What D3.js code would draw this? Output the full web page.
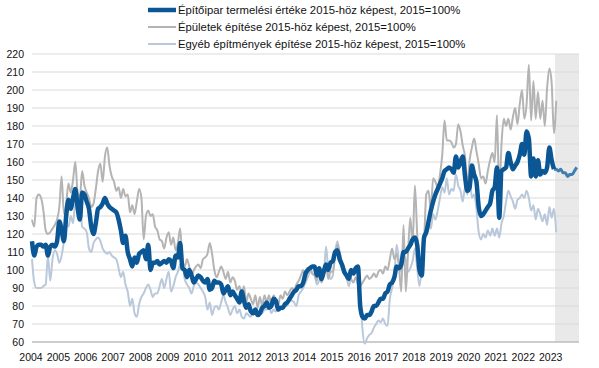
<!DOCTYPE html>
<html>
<head>
<meta charset="utf-8">
<script src="https://cdn.jsdelivr.net/npm/d3@7"></script>
<style>
  body { margin: 0; background: #fff; }
  svg text { font-family: "Liberation Sans", Arial, sans-serif; fill: #111; }
</style>
</head>
<body>
<div id="chart"></div>
<script>
// monthly, 2004 Jan ->
const years = [2004, 2005, 2006, 2007, 2008, 2009, 2010, 2011, 2012, 2013,
  2014, 2015, 2016, 2017, 2018, 2019, 2020, 2021, 2022, 2023];
const yTicks = [60, 70, 80, 90, 100, 110, 120, 130, 140, 150, 160, 170, 180, 190, 200, 210, 220];
const forecastStart = 230;

const seriesNames = [
  'Építőipar termelési értéke 2015-höz képest, 2015=100%',
  'Épületek építése 2015-höz képest, 2015=100%',
  'Egyéb építmények építése 2015-höz képest, 2015=100%'
];

const total = [
  116,108,113,114,114,113,114,108,113,114,113,116,
  127,122,116,130,139,134,140,145,135,128,143,142,
  138,134,124,120,126,134,135,137,140,137,135,134,
  133,132,128,122,115,119,110,106,102,107,104,109,
  110,111,106,114,100,104,104,105,103,104,105,104,
  106,105,101,108,107,115,101,100,96,100,97,93,
  95,97,96,94,93,95,89,90,94,93,93,92,
  87,89,91,86,88,86,84,82,88,83,79,81,
  77,76,78,75,76,79,80,82,79,80,84,83,
  78,79,79,81,82,84,86,88,89,91,91,93,
  98,100,101,102,102,97,101,95,99,103,100,104,
  105,110,111,106,103,99,97,95,100,98,101,102,
  80,74,73,75,75,77,80,80,82,84,84,87,
  88,92,93,96,102,101,103,110,110,112,114,117,
  118,114,100,97,118,121,127,133,138,142,145,148,
  151,155,156,157,156,154,163,157,160,163,152,144,
  146,158,153,149,135,130,131,133,135,137,144,146,
  157,129,155,156,157,165,160,156,158,160,164,170,
  164,177,173,152,162,152,161,153,155,154,157,168,
  161,156,156,155,156,154,154,152,153,153,155,157
];

const buildings = [
  128,124,140,142,140,133,122,120,121,123,125,128,
  135,152,131,137,148,143,150,160,143,140,155,147,
  143,140,135,137,145,155,159,149,163,168,158,152,
  149,144,146,140,145,141,142,132,136,131,138,145,
  140,117,130,133,130,131,124,122,117,116,112,118,
  121,114,118,111,115,123,106,102,106,102,97,100,
  102,103,101,106,107,109,115,109,100,96,99,102,
  99,95,99,93,96,94,89,91,87,91,82,87,
  84,81,86,79,85,80,86,82,86,80,86,83,
  80,86,84,88,86,88,90,89,92,94,97,100,
  94,100,102,98,97,94,100,93,97,102,95,99,
  99,108,114,110,104,101,95,97,95,93,96,92,
  91,93,95,97,95,96,98,96,99,100,98,102,
  100,106,112,106,109,102,88,125,88,110,129,114,
  147,120,101,108,116,142,144,133,151,149,146,153,
  164,183,172,172,171,168,170,181,177,169,163,147,
  161,168,173,166,159,151,152,148,155,161,165,160,
  186,143,170,184,180,184,178,185,190,181,192,200,
  184,192,214,183,205,184,199,184,194,180,201,212,
  204,176,194
];

const other = [
  106,93,90,90,90,91,92,108,94,106,111,109,
  104,108,116,127,124,130,126,137,131,140,124,123,
  121,112,110,115,117,118,116,112,110,109,110,108,
  107,106,101,96,99,92,88,80,84,76,74,81,
  85,87,90,92,89,85,87,87,91,95,90,95,
  99,88,91,96,99,103,104,95,92,90,87,91,
  93,92,90,88,85,78,82,75,79,80,78,82,
  86,82,79,75,78,80,76,78,74,73,76,75,
  74,78,76,75,77,76,78,78,80,76,78,77,
  78,79,78,80,80,84,83,82,80,86,88,90,
  93,96,99,98,97,92,94,95,97,113,100,95,
  97,110,116,109,103,100,96,91,97,99,101,99,
  87,67,59,62,64,65,68,70,72,71,73,70,
  69,84,90,97,114,105,99,108,106,99,101,105,
  112,101,91,101,116,120,127,123,131,128,133,140,
  146,143,151,142,145,144,153,147,144,138,146,142,
  154,140,142,134,121,117,120,118,122,119,123,119,
  123,118,126,130,138,144,141,138,134,139,140,142,
  140,144,140,133,136,128,134,131,127,131,125,135,
  129,134,121
];

const width = 599;
const height = 368;
const margin = { top: 54, right: 20, bottom: 26, left: 32 };

const svg = d3.select('#chart').append('svg')
  .attr('width', width)
  .attr('height', height);

const x = d3.scaleLinear()
  .domain([0, years.length * 12])
  .range([margin.left, width - margin.right]);

const y = d3.scaleLinear()
  .domain([60, 220])
  .range([height - margin.bottom, margin.top]);

// forecast shading
svg.append('rect')
  .attr('x', x(forecastStart - 0.5))
  .attr('y', y(220))
  .attr('width', x(years.length * 12) - x(forecastStart - 0.5))
  .attr('height', y(60) - y(220))
  .attr('fill', '#e9e9e9');

// grid
svg.append('g')
  .selectAll('line')
  .data(yTicks)
  .enter().append('line')
  .attr('x1', x(0))
  .attr('x2', x(years.length * 12))
  .attr('y1', d => y(d))
  .attr('y2', d => y(d))
  .attr('stroke', d => d === 60 ? '#bdbdbd' : '#d9d9d9')
  .attr('stroke-width', d => d === 60 ? 1.5 : 1);

// y labels
svg.append('g')
  .selectAll('text')
  .data(yTicks)
  .enter().append('text')
  .attr('x', 24)
  .attr('y', d => y(d))
  .attr('dy', '0.35em')
  .attr('text-anchor', 'end')
  .style('font-size', '10.5px')
  .text(d => d);

// x labels
svg.append('g')
  .selectAll('text')
  .data(years)
  .enter().append('text')
  .attr('x', (d, i) => x(i * 12) - 1)
  .attr('y', 361)
  .attr('text-anchor', 'middle')
  .style('font-size', '10.5px')
  .text(d => d);

const line = d3.line()
  .x(d => x(d[0]))
  .y(d => y(d[1]))
  .curve(d3.curveMonotoneX);

const pts = arr => arr.map((v, i) => [i, v]);

svg.append('path')
  .datum(pts(other))
  .attr('d', line)
  .attr('fill', 'none')
  .attr('stroke', '#b9c8da')
  .attr('stroke-width', 2);

svg.append('path')
  .datum(pts(buildings))
  .attr('d', line)
  .attr('fill', 'none')
  .attr('stroke', '#b4b4b4')
  .attr('stroke-width', 2);

const totalPts = pts(total);

svg.append('path')
  .datum(totalPts.slice(forecastStart - 1))
  .attr('d', line)
  .attr('fill', 'none')
  .attr('stroke', '#3f7db3')
  .attr('stroke-width', 3)
  .attr('stroke-linejoin', 'round');

svg.append('path')
  .datum(totalPts.slice(0, forecastStart))
  .attr('d', line)
  .attr('fill', 'none')
  .attr('stroke', '#0b5796')
  .attr('stroke-width', 4.5)
  .attr('stroke-linejoin', 'round');

// legend
const legendColors = ['#0b5796', '#b4b4b4', '#b9c8da'];
const legendWidths = [4.5, 2, 2];
const legend = svg.append('g')
  .selectAll('g')
  .data(seriesNames)
  .enter().append('g')
  .attr('transform', (d, i) => 'translate(148,' + (10 + i * 17) + ')');

legend.append('line')
  .attr('x1', 0)
  .attr('x2', 28)
  .attr('stroke', (d, i) => legendColors[i])
  .attr('stroke-width', (d, i) => legendWidths[i]);

legend.append('text')
  .attr('x', 30)
  .attr('dy', '0.35em')
  .style('font-size', '11.3px')
  .text(d => d);
</script>
</body>
</html>
